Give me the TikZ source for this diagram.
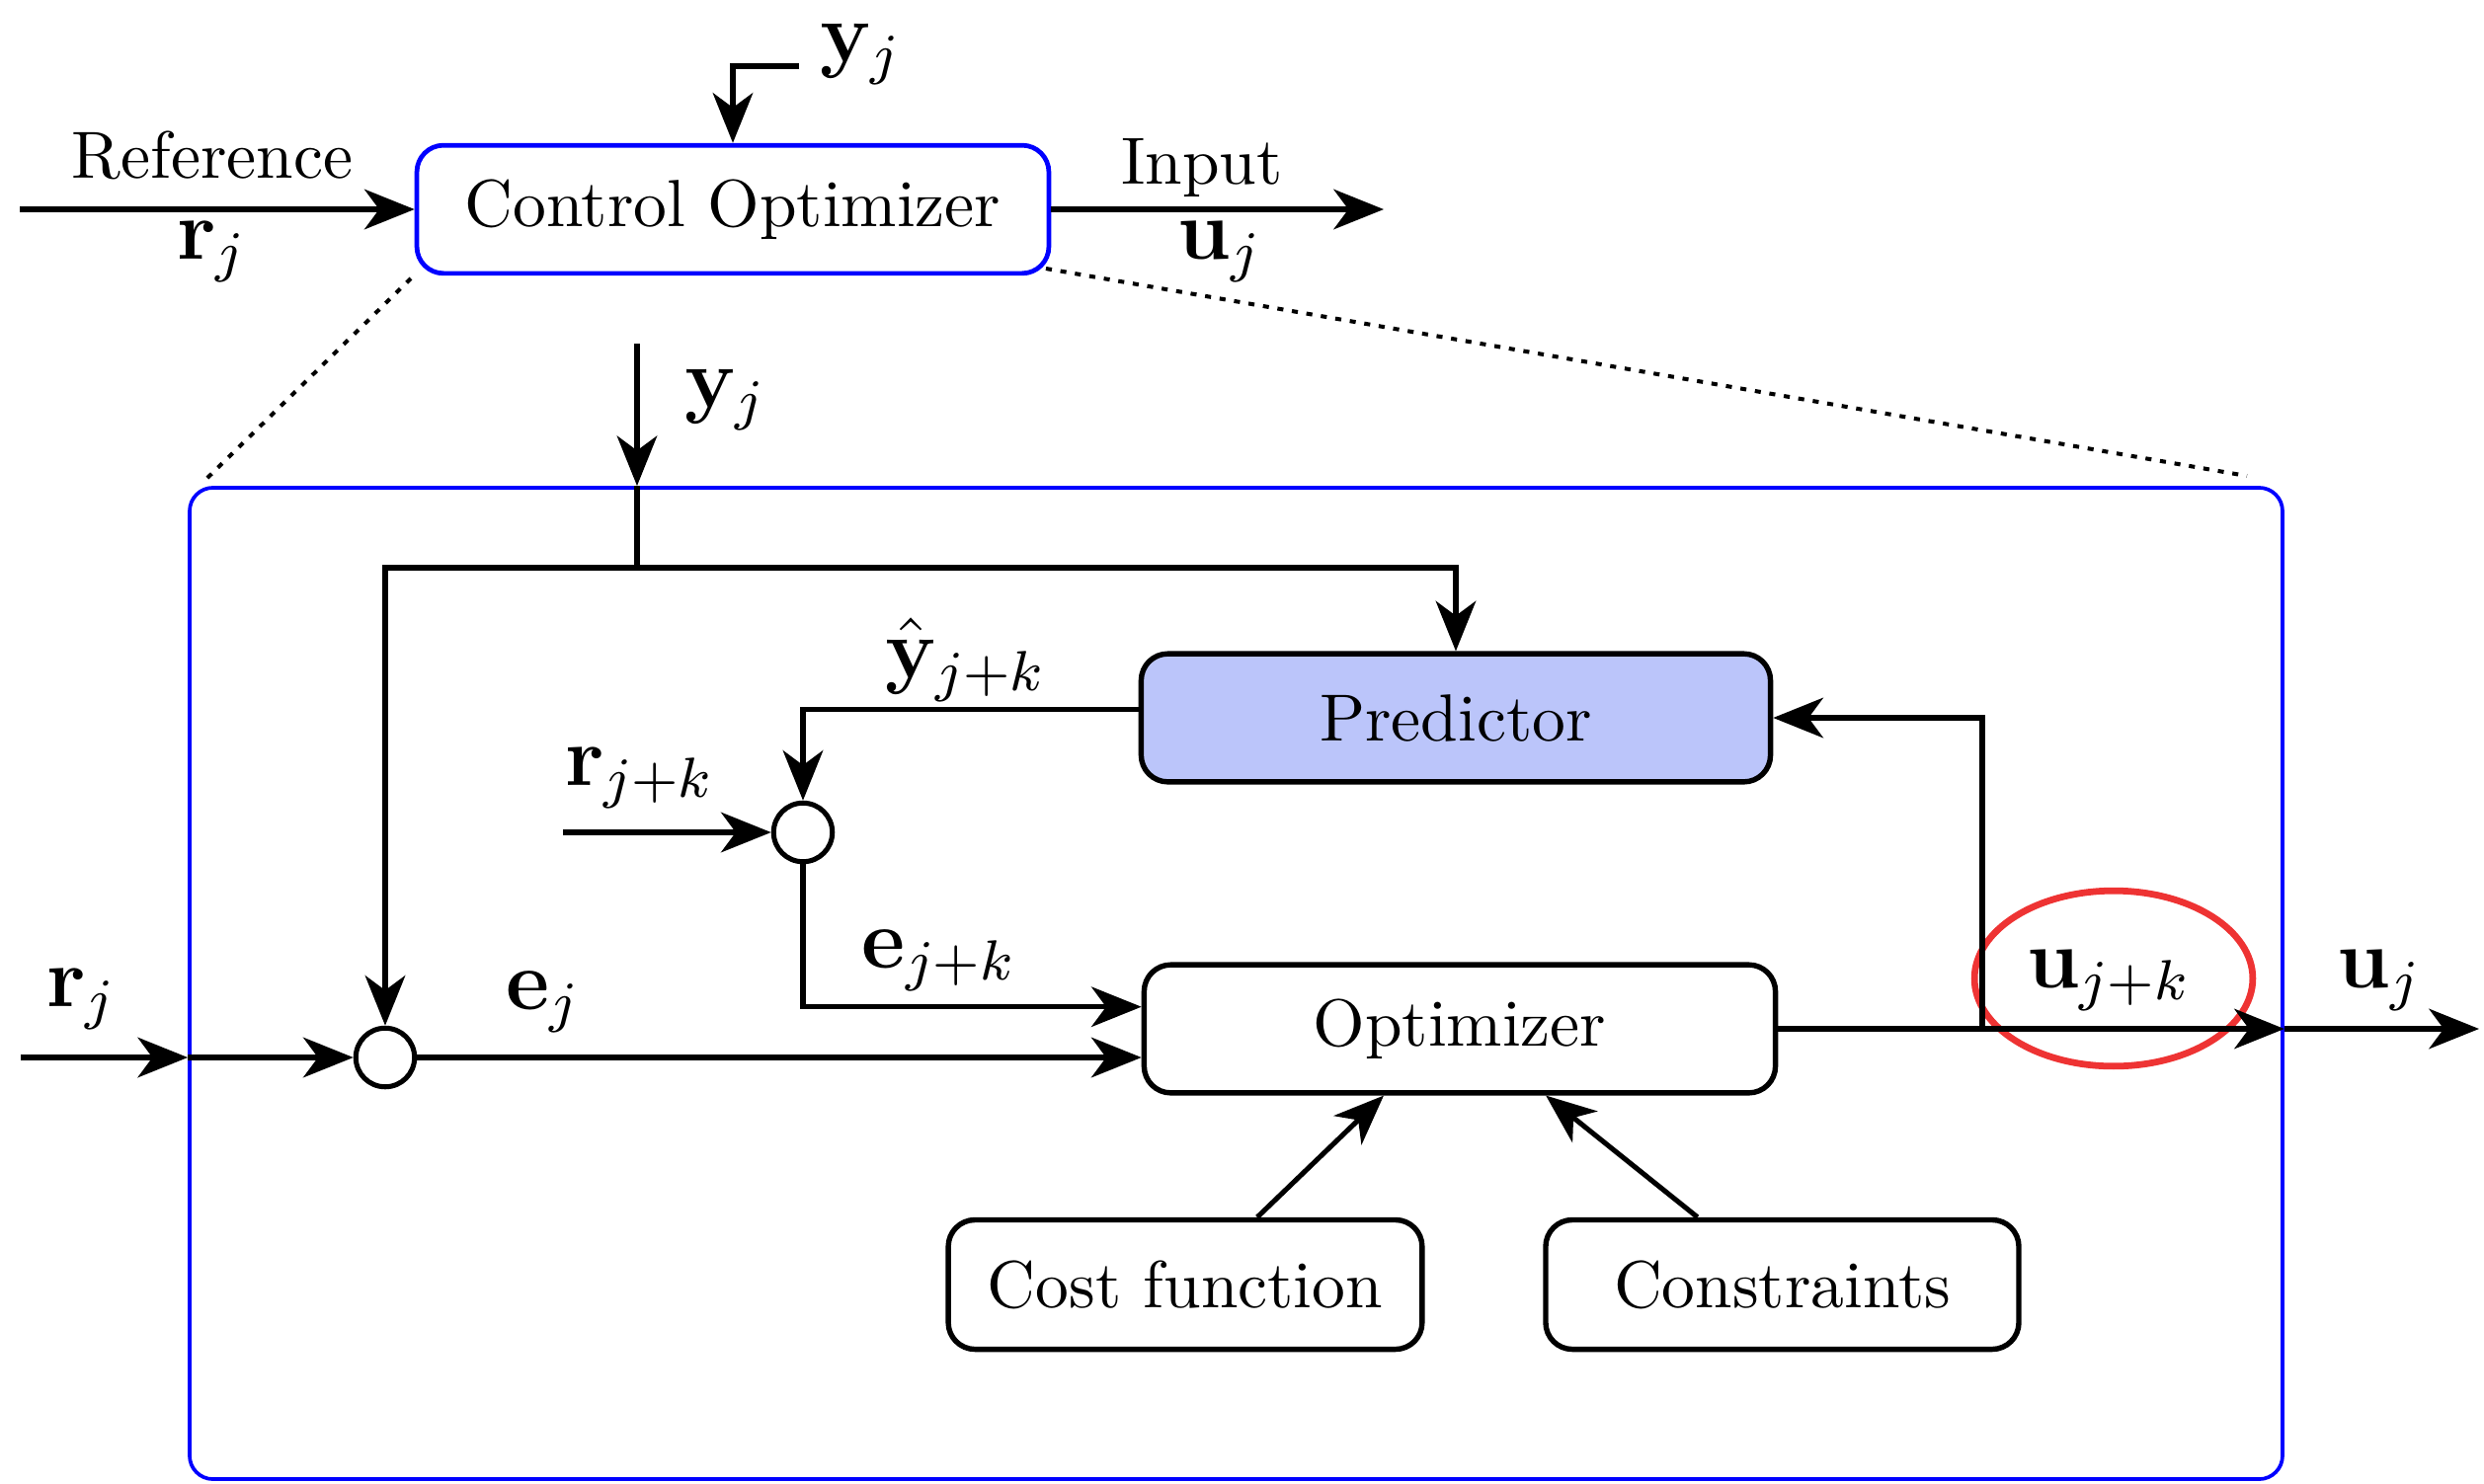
\documentclass[tikz,border=0pt]{standalone}
\usetikzlibrary{arrows.meta,shapes.geometric,calc}
\definecolor{predfill}{RGB}{187,197,250}
\definecolor{circred}{RGB}{238,51,51}
\begin{document}
\begin{tikzpicture}[x=0.148pt,y=-0.148pt,
  line width=0.75pt,
  arr/.style={-{Stealth[length=7.5pt,width=6pt,inset=2.2pt]}},
  blk/.style={draw,line width=0.8pt,rounded corners=4pt,inner sep=0pt,minimum height=19.2pt,align=center},
  sumnode/.style={draw,circle,inner sep=0pt,minimum size=8.8pt,fill=white},
  lbl/.style={inner sep=0pt,anchor=center},
  mlbl/.style={inner sep=0pt,anchor=center,font=\large,scale=1.06,transform shape},
  dots/.style={line width=0.6pt,dash pattern=on 0.9pt off 1.3pt}
]
\useasboundingbox (0,0) rectangle (2515,1502);

% top-level block
\node[blk,draw=blue,line width=0.7pt,minimum width=94.7pt] (co) at (742,212) {Control Optimizer};

% zoomed frame
\node[draw=blue,line width=0.55pt,rounded corners=3.5pt,inner sep=0pt,minimum width=313.6pt,minimum height=148.6pt] (frame) at (1251.5,996) {};

% inner blocks
\node[blk,fill=predfill,minimum width=94.3pt] (pred) at (1474,727) {Predictor};
\node[blk,minimum width=94.6pt] (opt) at (1478,1042) {Optimizer};
\node[blk,minimum width=71pt,minimum height=19.4pt] (cost) at (1200,1301) {Cost function};
\node[blk,minimum width=70.9pt,minimum height=19.4pt] (cons) at (1804.5,1301) {Constraints};
\node[sumnode] (c1) at (390,1071) {};
\node[sumnode] (c2) at (813,843) {};

% labels
\node[lbl] (lref) at (215,157) {Reference};
\node[mlbl] (lrj) at (215,255) {$\mathbf{r}_j$};
\node[lbl] (linp) at (1217,170) {Input};
\node[mlbl] (luj) at (1235,255) {$\mathbf{u}_j$};
\node[mlbl] (lytop) at (872,55) {$\mathbf{y}_j$};
\node[mlbl] (lyin) at (735,405) {$\mathbf{y}_j$};
\node[mlbl] (lyhat) at (978,668) {$\hat{\mathbf{y}}_{j+k}$};
\node[mlbl] (lrjk) at (648,788) {$\mathbf{r}_{j+k}$};
\node[mlbl] (lejk) at (951,973) {$\mathbf{e}_{j+k}$};
\node[mlbl] (lej) at (550,1015) {$\mathbf{e}_j$};
\node[mlbl] (lrj2) at (83,1012) {$\mathbf{r}_j$};
\node[mlbl] (lujk) at (2135,993) {$\mathbf{u}_{j+k}$};
\node[mlbl] (luj2) at (2409,993) {$\mathbf{u}_j$};

% highlight
\node[draw=circred,line width=1pt,ellipse,inner sep=0pt,minimum width=41.7pt,minimum height=26.3pt] (hl) at (2140,991) {};

% coordinates for free ends
\coordinate (refs) at (20,212);
\coordinate (inpe) at (1401,212);
\coordinate (ytop) at (809,67);
\coordinate (yin) at (645,348);
\coordinate (jn) at (645,575);
\coordinate (rjks) at (570,843);
\coordinate (rjs) at (21,1071);
\coordinate (uend) at (2510,1042);
\coordinate (fb) at (2007,1042);
\coordinate (d1a) at (416,282);
\coordinate (d1b) at (208,486);
\coordinate (d2a) at (1059,272);
\coordinate (d2b) at (2275,482);

% top-level connectors
\draw[arr] (refs) -- (co.west);
\draw[arr] (co.east) -- (inpe);
\draw[arr] (ytop) -| (co.north);
\draw[dots] (d1a) -- (d1b);
\draw[dots] (d2a) -- (d2b);

% inner connectors
\draw[arr] (yin) -- (yin |- frame.north);
\draw (yin |- frame.north) -- (jn);
\draw[arr] (jn) -| (c1.north);
\draw[arr] (jn) -| (pred.north);
\draw[arr] ([yshift=1.2pt]pred.west) -| (c2.north);
\draw[arr] (rjks) -- (c2.west);
\draw[arr] (c2.south) |- ([yshift=3.3pt]opt.west);
\draw[arr] (c1.east) -- (c1.east -| opt.west);
\draw[arr] (rjs) -- (rjs -| frame.west);
\draw[arr] (rjs -| frame.west) -- (c1.west);
\draw[arr] (opt.east) -- (opt.east -| frame.east);
\draw[arr] (opt.east -| frame.east) -- (uend);
\draw[arr] (fb) |- (pred.east);
\draw[arr] ([xshift=10.8pt]cost.north) -- ([xshift=-11.4pt]opt.south);
\draw[arr] ([xshift=-12.7pt]cons.north) -- ([xshift=12.9pt]opt.south);
\end{tikzpicture}
\end{document}
